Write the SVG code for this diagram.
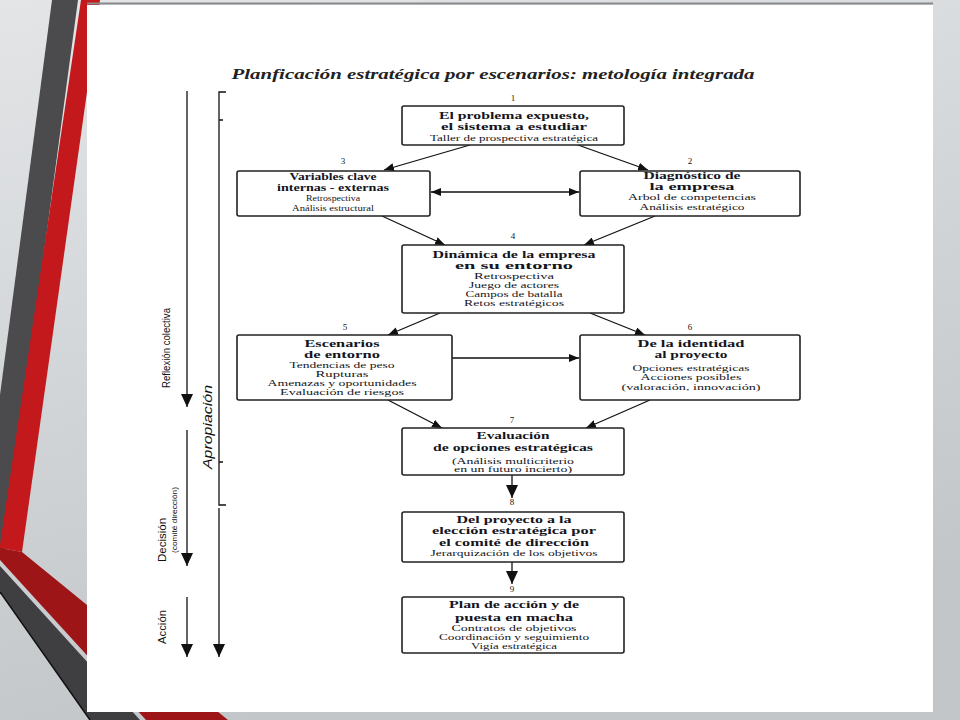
<svg xmlns="http://www.w3.org/2000/svg" width="960" height="720" viewBox="0 0 960 720">
<defs>
<linearGradient id="bg" x1="0" y1="0" x2="0.3" y2="1">
<stop offset="0" stop-color="#e3e5e7"/>
<stop offset="1" stop-color="#c2c6c9"/>
</linearGradient>
<marker id="ah" viewBox="0 0 10 8" refX="10" refY="4" markerWidth="10" markerHeight="8" markerUnits="userSpaceOnUse" orient="auto-start-reverse">
<path d="M0,0 L10,4 L0,8 z" fill="#111"/>
</marker>
<marker id="big" viewBox="0 0 13 12" refX="13" refY="6" markerWidth="13" markerHeight="12" markerUnits="userSpaceOnUse" orient="auto">
<path d="M0,0 L13,6 L0,12 z" fill="#111"/>
</marker>
<style>
.box{fill:#fff;stroke:#222;stroke-width:1.6}
.t{font-family:"Liberation Serif","DejaVu Serif",serif;fill:#151520;text-anchor:middle}
.n{font-size:9px}
.b{font-size:10.5px;font-weight:bold}
.s{font-size:8px}
.c{stroke:#111;stroke-width:1.3;fill:none}
.lab{font-family:"Liberation Sans Narrow","Liberation Sans",sans-serif;fill:#111;text-anchor:middle}
</style>
</defs>
<rect x="0" y="0" width="960" height="720" fill="url(#bg)"/>
<g id="decor">
<polygon points="52,0 78,0 4,550 0,550 0,395" fill="#4b4b4d"/>
<polygon points="81,0 100,0 22,552 0,548 0,545" fill="#c3191d"/>
<polygon points="0,548 22,552 228,720 146,720 0,560" fill="#9e1518"/>
<polygon points="0,566 140,720 90,720 0,592" fill="#3f3f41"/>
<line x1="0" y1="592" x2="90" y2="720" stroke="#111" stroke-width="1.5"/>
</g>
<rect x="87" y="5" width="846" height="707" fill="#fff"/>
<line x1="87" y1="3.5" x2="933" y2="3.5" stroke="#8a8a8a" stroke-width="2"/>
<text x="493" y="79" font-family="Liberation Serif,serif" font-weight="bold" font-style="italic" font-size="15" fill="#222" text-anchor="middle" textLength="523" lengthAdjust="spacingAndGlyphs">Planficación estratégica por escenarios: metología integrada</text>
<g id="side">
<line class="c" x1="187" y1="91" x2="187" y2="407" marker-end="url(#big)"/>
<line class="c" x1="187" y1="430" x2="187" y2="566" marker-end="url(#big)"/>
<line class="c" x1="187" y1="597" x2="187" y2="657" marker-end="url(#big)"/>
<line class="c" x1="219" y1="508" x2="219" y2="657" marker-end="url(#big)"/>
<path class="c" d="M226,92 H219 V505 H226 M219,120 h4 M219,462 h4"/>
<text class="lab" transform="translate(170,348) rotate(-90)" font-size="10" textLength="80" lengthAdjust="spacingAndGlyphs">Reflexión colectiva</text>
<text class="lab" transform="translate(212,427) rotate(-90)" font-size="13" font-style="italic" textLength="84" lengthAdjust="spacingAndGlyphs">Apropiación</text>
<text class="lab" transform="translate(166,540) rotate(-90)" font-size="11" textLength="44" lengthAdjust="spacingAndGlyphs">Decisión</text>
<text class="lab" transform="translate(177,520) rotate(-90)" font-size="7" textLength="66" lengthAdjust="spacingAndGlyphs">(comité dirección)</text>
<text class="lab" transform="translate(166,627) rotate(-90)" font-size="11" textLength="34" lengthAdjust="spacingAndGlyphs">Acción</text>
</g>
<g id="connectors">
<line class="c" x1="470" y1="145" x2="384" y2="170" marker-end="url(#ah)"/>
<line class="c" x1="578" y1="145" x2="648" y2="170" marker-end="url(#ah)"/>
<line class="c" x1="431" y1="192" x2="579" y2="192" marker-start="url(#ah)" marker-end="url(#ah)"/>
<line class="c" x1="382" y1="216" x2="445" y2="245" marker-end="url(#ah)"/>
<line class="c" x1="655" y1="216" x2="584" y2="245" marker-end="url(#ah)"/>
<line class="c" x1="440" y1="313" x2="388" y2="335" marker-end="url(#ah)"/>
<line class="c" x1="590" y1="313" x2="645" y2="335" marker-end="url(#ah)"/>
<line class="c" x1="452" y1="358" x2="579" y2="358" marker-end="url(#ah)"/>
<line class="c" x1="388" y1="400" x2="442" y2="428" marker-end="url(#ah)"/>
<line class="c" x1="650" y1="400" x2="586" y2="428" marker-end="url(#ah)"/>
<line class="c" x1="512" y1="475" x2="512" y2="498" marker-end="url(#big)"/>
<line class="c" x1="512" y1="562" x2="512" y2="584" marker-end="url(#big)"/>
</g>
<g id="n1">
<rect class="box" x="402" y="106" width="222" height="39" rx="2"/>
<text class="t n" x="513" y="101">1</text>
<text class="t b" x="514" y="119" textLength="150" lengthAdjust="spacingAndGlyphs">El problema expuesto,</text>
<text class="t b" x="514" y="130" textLength="146" lengthAdjust="spacingAndGlyphs">el sistema a estudiar</text>
<text class="t s" x="514" y="141" textLength="168" lengthAdjust="spacingAndGlyphs">Taller de prospectiva estratégica</text>
</g>
<g id="n3">
<rect class="box" x="237" y="171" width="193" height="45" rx="2"/>
<text class="t n" x="343" y="164">3</text>
<text class="t b" x="333" y="180" textLength="87" lengthAdjust="spacingAndGlyphs">Variables clave</text>
<text class="t b" x="333" y="191" textLength="112" lengthAdjust="spacingAndGlyphs">internas - externas</text>
<text class="t s" x="333" y="201" textLength="54" lengthAdjust="spacingAndGlyphs">Retrospectiva</text>
<text class="t s" x="333" y="211" textLength="82" lengthAdjust="spacingAndGlyphs">Análisis estructural</text>
</g>
<g id="n2">
<rect class="box" x="580" y="171" width="220" height="45" rx="2"/>
<text class="t n" x="690" y="164">2</text>
<text class="t b" x="692" y="179" textLength="97" lengthAdjust="spacingAndGlyphs">Diagnóstico de</text>
<text class="t b" x="692" y="190" textLength="85" lengthAdjust="spacingAndGlyphs">la empresa</text>
<text class="t s" x="692" y="200" textLength="128" lengthAdjust="spacingAndGlyphs">Arbol de competencias</text>
<text class="t s" x="692" y="210" textLength="105" lengthAdjust="spacingAndGlyphs">Análisis estratégico</text>
</g>
<g id="n4">
<rect class="box" x="402" y="245" width="222" height="68" rx="2"/>
<text class="t n" x="513" y="239">4</text>
<text class="t b" x="514" y="258" textLength="163" lengthAdjust="spacingAndGlyphs">Dinámica de la empresa</text>
<text class="t b" x="514" y="269" textLength="118" lengthAdjust="spacingAndGlyphs">en su entorno</text>
<text class="t s" x="514" y="279" textLength="80" lengthAdjust="spacingAndGlyphs">Retrospectiva</text>
<text class="t s" x="514" y="288" textLength="90" lengthAdjust="spacingAndGlyphs">Juego de actores</text>
<text class="t s" x="514" y="297" textLength="97" lengthAdjust="spacingAndGlyphs">Campos de batalla</text>
<text class="t s" x="514" y="306" textLength="100" lengthAdjust="spacingAndGlyphs">Retos estratégicos</text>
</g>
<g id="n5">
<rect class="box" x="237" y="335" width="215" height="65" rx="2"/>
<text class="t n" x="345" y="330">5</text>
<text class="t b" x="342" y="347" textLength="75" lengthAdjust="spacingAndGlyphs">Escenarios</text>
<text class="t b" x="342" y="358" textLength="76" lengthAdjust="spacingAndGlyphs">de entorno</text>
<text class="t s" x="342" y="368" textLength="105" lengthAdjust="spacingAndGlyphs">Tendencias de peso</text>
<text class="t s" x="342" y="377" textLength="53" lengthAdjust="spacingAndGlyphs">Rupturas</text>
<text class="t s" x="342" y="386" textLength="149" lengthAdjust="spacingAndGlyphs">Amenazas y oportunidades</text>
<text class="t s" x="342" y="395" textLength="124" lengthAdjust="spacingAndGlyphs">Evaluación de riesgos</text>
</g>
<g id="n6">
<rect class="box" x="580" y="335" width="220" height="65" rx="2"/>
<text class="t n" x="690" y="330">6</text>
<text class="t b" x="691" y="347" textLength="107" lengthAdjust="spacingAndGlyphs">De la identidad</text>
<text class="t b" x="691" y="358" textLength="73" lengthAdjust="spacingAndGlyphs">al proyecto</text>
<text class="t s" x="691" y="371" textLength="117" lengthAdjust="spacingAndGlyphs">Opciones estratégicas</text>
<text class="t s" x="691" y="380" textLength="101" lengthAdjust="spacingAndGlyphs">Acciones posibles</text>
<text class="t s" x="691" y="390" textLength="139" lengthAdjust="spacingAndGlyphs">(valoración, innovación)</text>
</g>
<g id="n7">
<rect class="box" x="402" y="428" width="222" height="47" rx="2"/>
<text class="t n" x="512" y="423">7</text>
<text class="t b" x="513" y="439" textLength="73" lengthAdjust="spacingAndGlyphs">Evaluación</text>
<text class="t b" x="513" y="451" textLength="160" lengthAdjust="spacingAndGlyphs">de opciones estratégicas</text>
<text class="t s" x="513" y="464" textLength="122" lengthAdjust="spacingAndGlyphs">(Análisis multicriterio</text>
<text class="t s" x="513" y="472" textLength="118" lengthAdjust="spacingAndGlyphs">en un futuro incierto)</text>
</g>
<g id="n8">
<rect class="box" x="402" y="512" width="222" height="50" rx="2"/>
<text class="t n" x="512" y="505">8</text>
<text class="t b" x="514" y="523" textLength="115" lengthAdjust="spacingAndGlyphs">Del proyecto a la</text>
<text class="t b" x="514" y="534" textLength="164" lengthAdjust="spacingAndGlyphs">elección estratégica por</text>
<text class="t b" x="514" y="546" textLength="150" lengthAdjust="spacingAndGlyphs">el comité de dirección</text>
<text class="t s" x="514" y="556" textLength="167" lengthAdjust="spacingAndGlyphs">Jerarquización de los objetivos</text>
</g>
<g id="n9">
<rect class="box" x="402" y="597" width="222" height="56" rx="2"/>
<text class="t n" x="512" y="592">9</text>
<text class="t b" x="514" y="608" textLength="130" lengthAdjust="spacingAndGlyphs">Plan de acción y de</text>
<text class="t b" x="514" y="621" textLength="118" lengthAdjust="spacingAndGlyphs">puesta en macha</text>
<text class="t s" x="514" y="631" textLength="125" lengthAdjust="spacingAndGlyphs">Contratos de objetivos</text>
<text class="t s" x="514" y="640" textLength="150" lengthAdjust="spacingAndGlyphs">Coordinación y seguimiento</text>
<text class="t s" x="514" y="649" textLength="86" lengthAdjust="spacingAndGlyphs">Vigía estratégica</text>
</g>
</svg>
